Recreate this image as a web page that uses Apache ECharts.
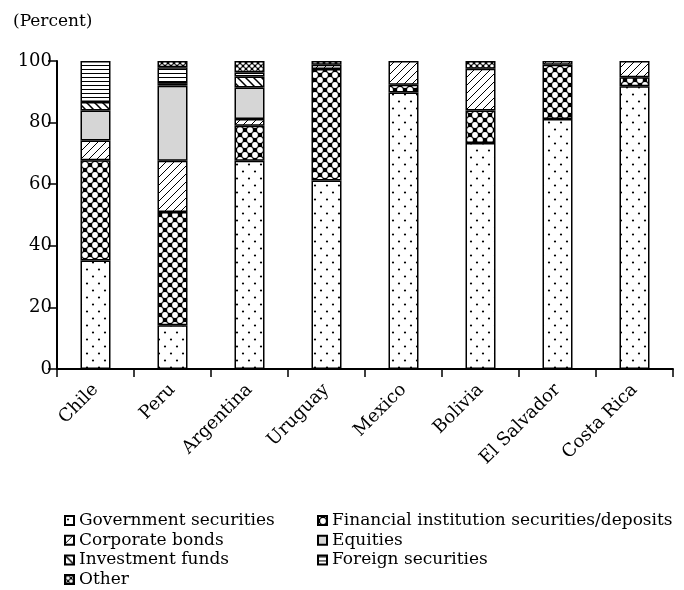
<!DOCTYPE html>
<html>
<head>
<meta charset="utf-8">
<script src="https://cdn.jsdelivr.net/npm/echarts@6/dist/echarts.min.js"></script>
<style>html,body{margin:0;padding:0;background:#fff}#c{width:684px;height:590px}</style>
</head>
<body>
<div id="c"></div>
<script>
// ---- data ----
const categories = ['Chile','Peru','Argentina','Uruguay','Mexico','Bolivia','El Salvador','Costa Rica'];
const seriesNames = ['Government securities','Financial institution securities/deposits','Corporate bonds','Equities','Investment funds','Foreign securities','Other'];
const government = [35.2, 14.2, 67.6, 61.2, 89.8, 73.4, 81.2, 91.8];
const financial  = [32.6, 36.8, 11.4, 36.2, 2.5, 10.5, 17.6, 2.9];
const corporate  = [6.4, 16.6, 2.2, 1.4, 7.7, 13.6, 1.2, 5.3];
const equities   = [9.7, 24.4, 10.2, null, null, null, null, null];
const investment = [2.8, 0.8, 3.6, null, null, null, null, null];
const foreign    = [13.3, 5.2, 1.3, null, null, null, null, null];
const other      = [null, 2.0, 3.7, 1.2, null, 2.5, null, null];
const yTicks = [0, 20, 40, 60, 80, 100];

// ---- patterns ----
function tile(w, h, draw) {
  const c = document.createElement('canvas');
  c.width = w; c.height = h;
  const g = c.getContext('2d');
  draw(g, w, h);
  return { image: c, repeat: 'repeat' };
}
const patDots = tile(12, 14, (g, w, h) => {
  g.fillStyle = '#fff'; g.fillRect(0, 0, w, h);
  g.fillStyle = '#000';
  g.beginPath(); g.arc(3, 3.5, 1.1, 0, Math.PI * 2); g.fill();
  g.beginPath(); g.arc(9, 10.5, 1.1, 0, Math.PI * 2); g.fill();
});
function circles(size, r) {
  return tile(size, size, (g, w, h) => {
    g.fillStyle = '#000'; g.fillRect(0, 0, w, h);
    g.fillStyle = '#fff';
    [[0,0],[w,0],[0,h],[w,h],[w/2,h/2]].forEach(p => {
      g.beginPath(); g.arc(p[0], p[1], r, 0, Math.PI * 2); g.fill();
    });
  });
}
const patFin = circles(10, 2.9);
const patOther = circles(6, 1.8);
const patCorp = tile(8, 8, (g, w, h) => {
  g.fillStyle = '#fff'; g.fillRect(0, 0, w, h);
  g.strokeStyle = '#000'; g.lineWidth = 1;
  g.beginPath();
  g.moveTo(0, h); g.lineTo(w, 0);
  g.moveTo(-1, 1); g.lineTo(1, -1);
  g.moveTo(w - 1, h + 1); g.lineTo(w + 1, h - 1);
  g.stroke();
});
const patInv = tile(8, 8, (g, w, h) => {
  g.fillStyle = '#fff'; g.fillRect(0, 0, w, h);
  g.strokeStyle = '#000'; g.lineWidth = 1.5;
  g.beginPath();
  g.moveTo(0, 0); g.lineTo(w, h);
  g.moveTo(-1, h - 1); g.lineTo(1, h + 1);
  g.moveTo(w - 1, -1); g.lineTo(w + 1, 1);
  g.stroke();
});
const patForeign = tile(4, 4, (g, w, h) => {
  g.fillStyle = '#fff'; g.fillRect(0, 0, w, h);
  g.fillStyle = '#000'; g.fillRect(0, 1, w, 1);
});
const fills = [patDots, patFin, patCorp, '#d6d6d6', patInv, patForeign, patOther];
const values = [government, financial, corporate, equities, investment, foreign, other];

const FONT = 'DejaVu Serif';
const legendText = { fontFamily: FONT, fontSize: 17, color: '#000', lineHeight: 19 };
const chart = echarts.init(document.getElementById('c'), null, { renderer: 'canvas' });
chart.setOption({
  animation: false,
  backgroundColor: '#fff',
  title: {
    text: '(Percent)', left: 13, top: 13, padding: 0,
    textStyle: { fontFamily: FONT, fontSize: 17, fontWeight: 'normal', color: '#000' }
  },
  grid: { left: 57, right: 11, top: 61, bottom: 221, containLabel: false },
  xAxis: {
    type: 'category', data: categories,
    axisLine: { lineStyle: { color: '#000', width: 2 } },
    axisTick: { show: true, length: 8, lineStyle: { color: '#000', width: 1.5 } },
    axisLabel: { rotate: 45, margin: 18, color: '#000', fontFamily: FONT, fontSize: 18 }
  },
  yAxis: {
    type: 'value', min: yTicks[0], max: yTicks[yTicks.length - 1], interval: 20,
    splitLine: { show: false },
    axisLine: { show: true, lineStyle: { color: '#000', width: 2 } },
    axisTick: { show: true, length: 9, lineStyle: { color: '#000', width: 1.5 } },
    axisLabel: { margin: 5, color: '#000', fontFamily: FONT, fontSize: 18 }
  },
  legend: [
    {
      orient: 'vertical', left: 64, top: 511, height: 79, padding: 0,
      itemWidth: 9, itemHeight: 9, itemGap: 0.7, icon: 'rect',
      data: [seriesNames[0], seriesNames[2], seriesNames[4], seriesNames[6]],
      textStyle: legendText
    },
    {
      orient: 'vertical', left: 317, top: 511, height: 79, padding: 0,
      itemWidth: 9, itemHeight: 9, itemGap: 0.7, icon: 'rect',
      data: [seriesNames[1], seriesNames[3], seriesNames[5]],
      textStyle: legendText
    }
  ],
  series: seriesNames.map((name, i) => ({
    name, type: 'bar', stack: 'total', barWidth: 30,
    data: values[i],
    itemStyle: { color: fills[i], borderColor: '#000', borderWidth: 1.5 },
    emphasis: { disabled: true }
  }))
});
</script>
</body>
</html>
